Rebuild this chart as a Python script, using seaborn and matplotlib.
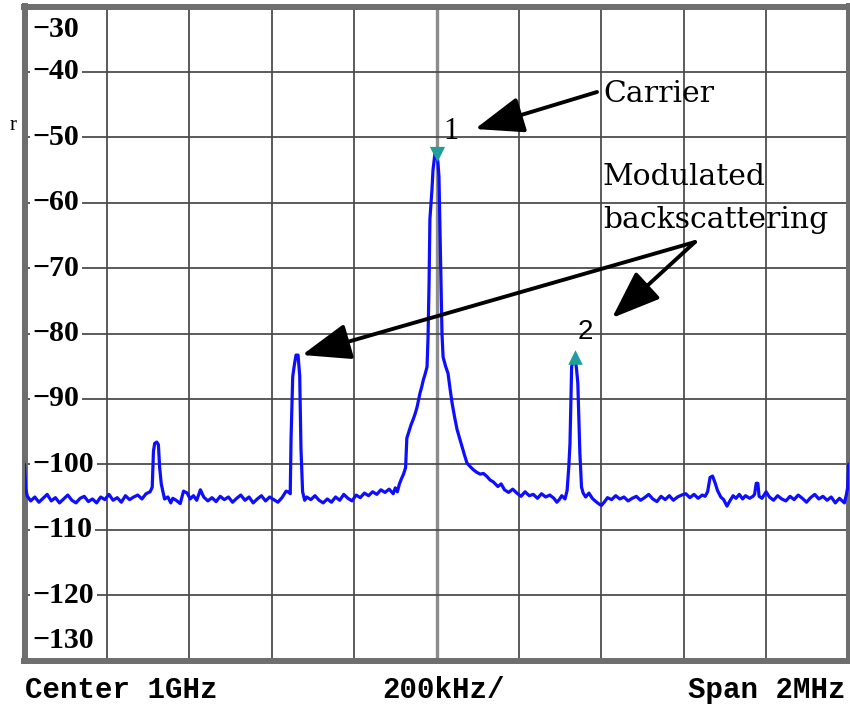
import matplotlib
matplotlib.use("Agg")
import matplotlib.pyplot as plt
import pandas as pd
import seaborn as sns

# ---------------- data ----------------
freq_khz = [
    -1000, -997, -993, -985, -975, -965, -955, -945, -935, -925, -915, -905,
    -895, -885, -875, -865, -855, -845, -835, -825, -815, -805, -795, -785,
    -775, -765, -755, -745, -735, -725, -715, -705,
    -695, -690, -687, -684, -679, -675, -672, -668, -664, -660, -652, -645,
    -640, -632, -622, -614, -605, -598, -590, -582, -573, -565, -555, -545,
    -535, -525, -515, -505, -495, -485, -475, -465, -455, -445, -435, -425,
    -415, -405, -395, -385, -375, -365, -358,
    -355, -353, -349, -345, -341, -336, -332, -329, -325, -320,
    -315, -305, -295, -285, -275, -265, -255, -245, -235, -225, -215, -205,
    -195, -185, -175, -165, -155, -145, -135, -125, -115, -105, -100,
    -95, -90, -85, -80, -75, -72, -68, -62, -57, -52, -47, -43, -40, -36,
    -32, -28, -23, -20.5, -18, -16, -11, -8.5, -4, 0, 3.6, 6, 8.5, 11, 13.3,
    16, 22, 28, 33, 38, 44, 50, 56, 62, 68, 74, 81, 89, 97, 106, 114, 123,
    130, 138, 149, 157, 165, 175, 185, 195, 205, 215, 225, 235, 245, 255,
    265, 275, 285, 292, 298,
    304, 312, 317, 321, 324, 328, 332, 337, 340, 343, 348, 352, 356, 362,
    370, 378, 385, 393, 400, 407, 415, 425, 435, 445, 455, 465, 475, 485,
    495, 505, 515, 525, 535, 545, 555, 565, 575, 585, 595, 605,
    615, 625, 635, 645, 652, 658, 664, 670, 676, 682, 690, 697, 705, 712,
    720, 727, 735, 743, 750, 760, 768, 772, 776, 780, 783, 790, 800, 808,
    818, 828, 838, 848, 858, 868, 878, 888, 898, 908, 918, 928, 938, 948,
    958, 968, 978, 985, 990, 995, 998, 1000,
]
level_dbm = [
    -100.0, -103.8, -104.9, -105.6, -105.0, -105.8, -105.2, -104.6, -105.6, -105.1, -105.9, -105.3,
    -104.7, -105.5, -105.9, -105.2, -104.9, -105.7, -105.3, -105.9, -105.0, -105.4, -104.6, -105.5,
    -105.1, -105.8, -104.8, -105.4, -105.0, -104.7, -105.3, -104.5,
    -104.2, -103.5, -98.0, -96.8, -96.6, -97.0, -100.5, -103.0, -104.2, -105.3, -105.0, -105.9,
    -105.2, -105.5, -106.0, -104.1, -104.4, -105.3, -104.8, -105.5, -103.9, -105.0, -105.6, -105.1,
    -105.7, -104.9, -105.4, -105.0, -105.8, -105.2, -104.7, -105.5, -105.0, -105.9, -105.3, -104.8,
    -105.6, -105.0, -105.4, -105.8, -105.1, -104.1, -104.3,
    -104.5, -96.0, -86.6, -84.8, -83.3, -83.3, -86.5, -97.5, -104.2, -105.5,
    -105.0, -105.4, -104.8, -105.5, -105.9, -105.3, -105.8, -105.0, -105.5, -104.6, -105.2, -105.6,
    -104.7, -105.1, -104.4, -104.8, -104.2, -104.6, -103.9, -104.3, -103.8, -104.5, -103.6,
    -104.2, -103.0, -102.2, -101.5, -100.5, -96.0, -95.2, -94.0, -93.2, -92.3, -91.2, -90.0, -89.1, -88.2,
    -87.1, -86.3, -85.1, -80.5, -72.0, -62.5, -58.0, -55.0, -52.6, -52.2, -54.0, -56.0, -64.0, -72.0, -80.0,
    -83.6, -85.0, -86.1, -88.5, -90.7, -92.8, -94.7, -96.0, -97.3, -98.6, -99.8, -100.3, -100.8, -101.2, -101.5, -101.4, -101.9,
    -102.4, -102.7, -103.4, -103.0, -103.9, -104.3, -103.8, -104.4, -104.9, -104.2, -104.8, -104.6, -105.2, -104.5,
    -105.0, -104.7, -105.2, -105.8, -105.4,
    -104.8, -105.3, -104.0, -100.5, -96.8, -85.1, -84.0, -84.0, -85.5, -87.6, -98.3, -103.5, -104.4, -105.0,
    -104.4, -105.2, -105.6, -106.0, -106.3, -105.8, -105.1, -105.4, -104.8, -105.3, -105.0, -105.6, -105.2, -104.9,
    -105.5, -105.1, -104.6, -105.3, -105.7, -104.9, -105.4, -104.8, -105.5, -105.0, -104.7, -104.5,
    -105.1, -104.6, -105.2, -104.7, -104.9, -104.2, -102.0, -101.8, -102.8, -104.0, -105.0, -105.4, -106.4, -105.6,
    -104.8, -105.2, -104.6, -105.3, -104.8, -105.2, -104.9, -104.6, -102.9, -102.9, -104.9, -105.2, -104.2, -105.0,
    -105.5, -104.8, -105.3, -105.6, -104.9, -105.4, -104.7, -105.2, -105.8, -105.1, -104.6, -105.3, -104.9, -105.5,
    -105.0, -105.9, -105.2, -105.6, -105.9, -104.6, -103.5, -100.0,
]

marker_freq_khz = [0, 336]
marker_level_dbm = [-52.5, -83.6]
marker_ids = ["1", "2"]

x_ticks = [-1000, -800, -600, -400, -200, 0, 200, 400, 600, 800, 1000]
y_ticks = [-30, -40, -50, -60, -70, -80, -90, -100, -110, -120, -130]
y_tick_labels = ["\u221230", "\u221240", "\u221250", "\u221260", "\u221270", "\u221280",
                 "\u221290", "\u2212100", "\u2212110", "\u2212120", "\u2212130"]

footer_texts = ["Center 1GHz", "200kHz/", "Span 2MHz"]
annot_carrier = "Carrier"
annot_mod = ["Modulated", "backscattering"]

# ---------------- figure ----------------
sns.set_style("white")
plt.rcParams["font.family"] = ["DejaVu Sans"]
plt.rcParams["text.color"] = "black"

W, H = 850, 707
fig = plt.figure(figsize=(W / 100, H / 100), dpi=100)
fig.patch.set_facecolor("white")
ax = fig.add_axes([24.5 / W, (H - 660.5) / H, 824 / W, 654 / H])
ax.set_facecolor("white")

trace = pd.DataFrame({"freq": freq_khz, "level": level_dbm})
sns.lineplot(data=trace, x="freq", y="level", ax=ax, color="#0d0dff",
             linewidth=2.3, estimator=None, sort=False, zorder=4)

teal = "#1f9e9a"
sns.scatterplot(x=marker_freq_khz[:1], y=marker_level_dbm[:1], ax=ax, marker="v",
                s=120, color=teal, edgecolor=teal, linewidth=0, zorder=6)
sns.scatterplot(x=marker_freq_khz[1:], y=marker_level_dbm[1:], ax=ax, marker="^",
                s=110, color=teal, edgecolor=teal, linewidth=0, zorder=6)

ax.annotate(marker_ids[0], xy=(marker_freq_khz[0], marker_level_dbm[0]),
            xytext=(15, 22), textcoords="offset pixels", ha="center", va="center",
            fontsize=22, family=["Liberation Serif"], color="black", zorder=7)
ax.annotate(marker_ids[1], xy=(marker_freq_khz[1], marker_level_dbm[1]),
            xytext=(10, 25), textcoords="offset pixels", ha="center", va="center",
            fontsize=20, family=["Liberation Sans"], color="black", zorder=7)

ax.set_xlim(x_ticks[0], x_ticks[-1])
ax.set_ylim(y_ticks[-1], y_ticks[0])
ax.set_xticks(x_ticks)
ax.set_yticks(y_ticks)
ax.grid(True, color="#474747", linewidth=1.25)
for gl, v in zip(ax.get_xgridlines(), x_ticks):
    if v == 0:
        gl.set_color("#8c8c8c")
        gl.set_linewidth(2.4)
ax.tick_params(length=0, labelleft=False, labelbottom=False)
ax.set_xlabel("")
ax.set_ylabel("")
for sp in ax.spines.values():
    sp.set_visible(True)
    sp.set_color("#6e6e6e")
    sp.set_linewidth(4.3)

# y tick labels drawn inside the plot
for v, lab in zip(y_ticks, y_tick_labels):
    dy = 0
    if v == y_ticks[0]:
        dy = -23
    elif v == y_ticks[-1]:
        dy = 20
    ax.annotate(lab, xy=(0, v), xycoords=ax.get_yaxis_transform(),
                xytext=(8, dy), textcoords="offset pixels", ha="left", va="center",
                fontsize=21.5, fontweight="bold", family=["Liberation Serif"],
                color="black", zorder=3,
                bbox=dict(boxstyle="square,pad=0.1", fc="white", ec="none"))

# footer
mono = ["Liberation Mono", "DejaVu Sans Mono"]
for txt, xpos, ha in zip(footer_texts, [25, 444, 846], ["left", "center", "right"]):
    fig.text(xpos / W, 9 / H, txt, ha=ha, va="baseline", color="black",
             fontsize=21, fontweight="bold", family=mono)

# annotations
serif = ["DejaVu Serif"]
fig.text(603 / W, (H - 102) / H, annot_carrier, ha="left", va="baseline",
         fontsize=21.5, family=serif, color="black")
fig.text(603 / W, (H - 185) / H, annot_mod[0], ha="left", va="baseline",
         fontsize=21.5, family=serif, color="black")
fig.text(603 / W, (H - 228) / H, annot_mod[1], ha="left", va="baseline",
         fontsize=21.5, family=serif, color="black")
fig.text(13 / W, (H - 126) / H, "r", ha="center", va="center", fontsize=15,
         family=["Liberation Serif"], color="black")

arrow_kw = dict(arrowstyle="-|>,head_length=1.2,head_width=0.45", color="black",
                lw=2.8, mutation_scale=25, shrinkA=0, shrinkB=0)
ax.annotate("", xy=(475, H - 129), xytext=(597, H - 92), xycoords="figure pixels",
            textcoords="figure pixels", arrowprops=arrow_kw, zorder=8)
ax.annotate("", xy=(302, H - 355), xytext=(695, H - 242), xycoords="figure pixels",
            textcoords="figure pixels", arrowprops=arrow_kw, zorder=8)
ax.annotate("", xy=(612, H - 318), xytext=(695, H - 242), xycoords="figure pixels",
            textcoords="figure pixels", arrowprops=arrow_kw, zorder=8)

fig.savefig("out.png", dpi=100, facecolor="white")
